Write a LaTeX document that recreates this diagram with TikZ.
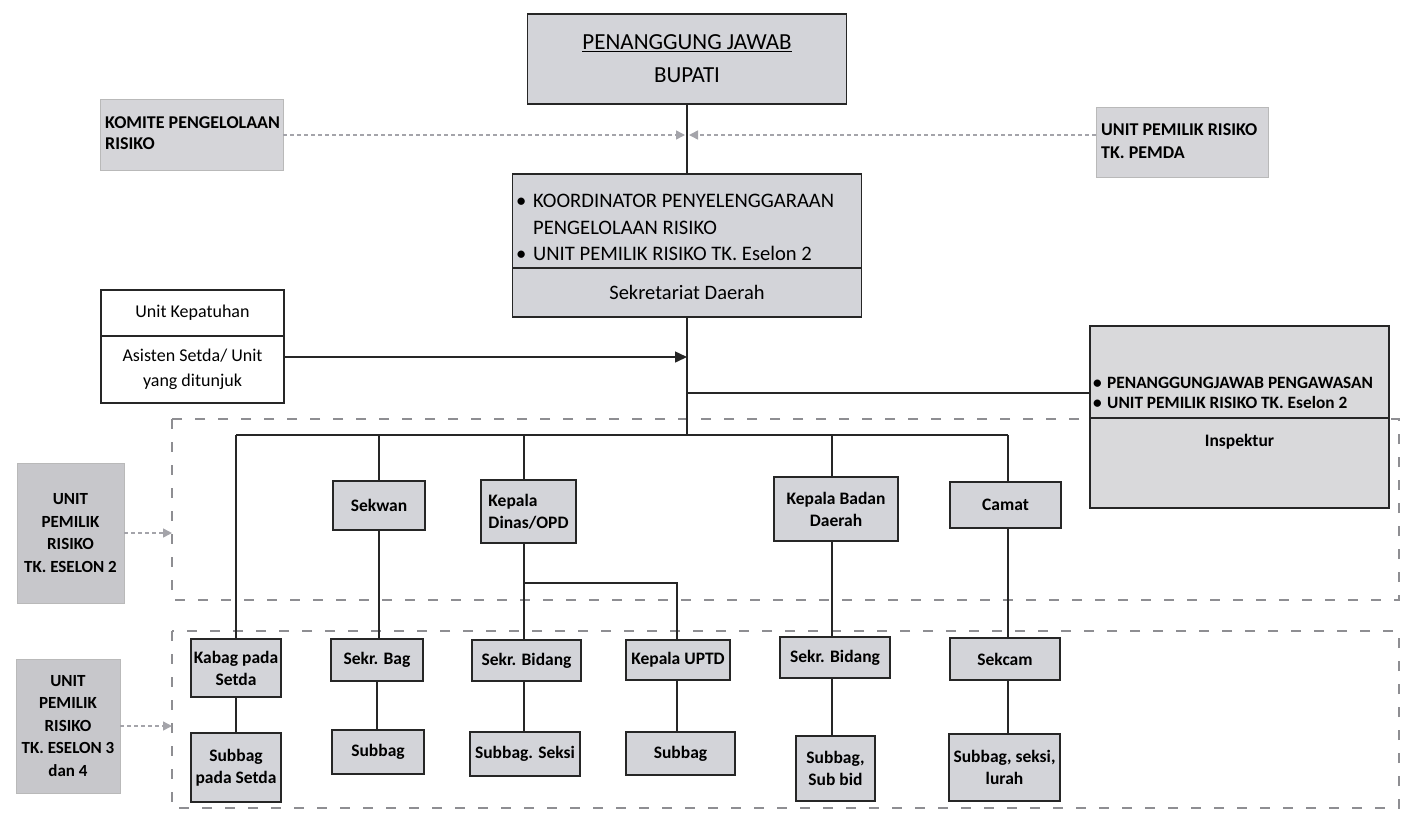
\documentclass[tikz,border=0pt]{standalone}
\usepackage{fontspec}
\setmainfont{Carlito}
\usetikzlibrary{arrows.meta}
\definecolor{boxgray}{HTML}{D3D4D9}
\definecolor{lightbox}{HTML}{D5D5D9}
\definecolor{sidegray}{HTML}{C7C7CB}
\definecolor{inspgray}{HTML}{D9D9DB}
\definecolor{dashgray}{HTML}{8E8E92}
\definecolor{dotgray}{HTML}{A4A4AA}
\begin{document}
\begin{tikzpicture}[x=1pt,y=-1pt,
  box/.style={draw=black!85, line width=1.3pt, fill=boxgray, rectangle, inner sep=1pt, align=center, font=\bfseries\fontsize{17.5}{22}\selectfont},
  sidebox/.style={draw=gray!55, line width=0.6pt, fill=sidegray, rectangle, inner sep=2pt, align=center, font=\bfseries\fontsize{17}{22.5}\selectfont},
  link/.style={draw=black!85, line width=1.3pt},
  region/.style={draw=dashgray, line width=2pt, dash pattern=on 10pt off 13pt},
  dotarrow/.style={draw=dotgray, line width=1.5pt, dash pattern=on 4pt off 3pt, -{Triangle[length=9pt,width=9pt]}},
  solidarrow/.style={draw=black!85, line width=1.5pt, -{Triangle[length=12pt,width=11pt]}},
  txt/.style={inner sep=0pt, align=left}
]
\useasboundingbox (0,0) rectangle (1406,812);

% dashed regions
\coordinate (r1nw) at (172,419);
\coordinate (r1se) at (1399,600);
\coordinate (r2nw) at (172,631);
\coordinate (r2se) at (1399,808);
\draw[region] (r1nw) rectangle (r1se);
\draw[region] (r2nw) rectangle (r2se);

% top
\node[box, minimum width=319pt, minimum height=90pt, font=\fontsize{23}{33}\selectfont] (bupati) at (687,59) {\underline{PENANGGUNG JAWAB}\\BUPATI};
\node[sidebox, fill=lightbox, minimum width=183pt, minimum height=71pt] (komite) at (191.5,134.5) {};
\node[txt, anchor=west, font=\bfseries\fontsize{18}{21}\selectfont] (komitetext) at (105,133.5) {KOMITE PENGELOLAAN\\RISIKO};
\node[sidebox, fill=lightbox, minimum width=172pt, minimum height=70pt] (pemda) at (1182,142) {};
\node[txt, anchor=west, font=\bfseries\fontsize{18}{23}\selectfont] (pemdatext) at (1101,141) {UNIT PEMILIK RISIKO\\TK. PEMDA};

\node[box, minimum width=349pt, minimum height=94pt] (koor) at (687,221) {};
\node[txt, anchor=west, font=\fontsize{20.6}{26.5}\selectfont] (koortext) at (516,227.5)
  {\makebox[17pt][l]{\textbullet}KOORDINATOR PENYELENGGARAAN\\\hspace*{17pt}PENGELOLAAN RISIKO\\\makebox[17pt][l]{\textbullet}UNIT PEMILIK RISIKO TK. Eselon 2};
\node[box, minimum width=349pt, minimum height=49pt, font=\fontsize{20.5}{22}\selectfont] (sekda) at (687,292.5) {Sekretariat Daerah};

\coordinate (mid) at (687,135);
\draw[link] (bupati.south) -- (koor.north);
\draw[dotarrow] (komite.east |- mid) -- ([xshift=-2pt]mid);
\draw[dotarrow] (pemda.west |- mid) -- ([xshift=2pt]mid);

% unit kepatuhan
\node[box, fill=white, minimum width=183pt, minimum height=46pt, font=\fontsize{18}{24}\selectfont] (kepTop) at (192.5,313) {Unit Kepatuhan};
\node[box, fill=white, minimum width=183pt, minimum height=67pt, font=\fontsize{18}{25}\selectfont] (kepBot) at (192.5,369.5) {Asisten Setda/ Unit\\yang ditunjuk};

% inspektur
\node[box, fill=inspgray, minimum width=299pt, minimum height=92pt] (inspTop) at (1239.5,372) {};
\node[box, fill=inspgray, minimum width=299pt, minimum height=90pt] (inspBot) at (1239.5,463) {};
\node[txt, anchor=west, font=\bfseries\fontsize{17.3}{20}\selectfont] (insptext) at (1093,393)
  {\makebox[14pt][l]{\textbullet}PENANGGUNGJAWAB PENGAWASAN\\\makebox[14pt][l]{\textbullet}UNIT PEMILIK RISIKO TK. Eselon 2};
\node[txt, font=\bfseries\fontsize{17.5}{20}\selectfont] (insplabel) at (1239.5,442) {Inspektur};

% main spine
\coordinate (kparr) at (687,357);
\coordinate (ib) at (687,393);
\coordinate (bus) at (687,435);
\coordinate (busL) at (236,435);
\coordinate (busR) at (1008,435);
\draw[link] (sekda.south) -- (bus);
\draw[link] (ib) -- (ib -| inspTop.west);
\draw[solidarrow] (kparr -| kepBot.east) -- (kparr);
\draw[link] (busL) -- (busR);

% side boxes
\node[sidebox, minimum width=107pt, minimum height=140pt] (upr2) at (70.5,533) {UNIT\\PEMILIK\\RISIKO\\TK. ESELON 2};
\node[sidebox, minimum width=104pt, minimum height=134pt] (upr34) at (68,726) {UNIT\\PEMILIK\\RISIKO\\TK. ESELON 3\\dan 4};
\draw[dotarrow] (upr2.east) -- (upr2.east -| r1nw);
\draw[dotarrow] (upr34.east) -- (upr34.east -| r2nw);

% middle row
\node[box, minimum width=92pt, minimum height=49pt] (sekwan) at (379,505.5) {Sekwan};
\node[box, minimum width=95pt, minimum height=63pt, align=left] (kadis) at (528.5,511.5) {Kepala\\Dinas/OPD};
\node[box, minimum width=124pt, minimum height=64pt] (kaban) at (836,509) {Kepala Badan\\Daerah};
\node[box, minimum width=111pt, minimum height=46pt] (camat) at (1005.5,505) {Camat};

% bottom row
\node[box, minimum width=90pt, minimum height=58pt] (kabag) at (236,668) {Kabag pada\\Setda};
\node[box, minimum width=90pt, minimum height=69pt] (subsetda) at (236,767.5) {Subbag\\pada Setda};
\node[box, minimum width=92pt, minimum height=42pt] (sekrbag) at (377,660) {Sekr. Bag};
\node[box, minimum width=92pt, minimum height=44pt] (subbag) at (378,752) {Subbag};
\node[box, minimum width=109pt, minimum height=41pt] (sekrbid) at (526.5,660.5) {Sekr. Bidang};
\node[box, minimum width=110pt, minimum height=44pt] (subseksi) at (525,754) {Subbag. Seksi};
\node[box, minimum width=104pt, minimum height=40pt] (kauptd) at (678,660) {Kepala UPTD};
\node[box, minimum width=109pt, minimum height=43pt] (subuptd) at (680.5,753.5) {Subbag};
\node[box, minimum width=110pt, minimum height=41pt] (sekrbidb) at (835,657.5) {Sekr. Bidang};
\node[box, minimum width=79pt, minimum height=65pt] (subbid) at (835.5,768.5) {Subbag,\\Sub bid};
\node[box, minimum width=110pt, minimum height=42pt] (sekcam) at (1005,659) {Sekcam};
\node[box, minimum width=111pt, minimum height=67pt] (lurah) at (1004.5,767.5) {Subbag, seksi,\\lurah};

% column connectors
\coordinate (c1) at (236,0);
\coordinate (c2) at (379,0);
\coordinate (c3) at (524,0);
\coordinate (c4) at (677,0);
\coordinate (c5) at (832,0);
\coordinate (c6) at (1008,0);
\coordinate (kd) at (524,583);
\draw[link] (busL) -- (kabag.north);
\draw[link] (kabag.south) -- (subsetda.north);
\draw[link] (c2 |- busL) -- (c2 |- sekwan.north);
\draw[link] (c2 |- sekwan.south) -- (c2 |- sekrbag.north);
\draw[link] (sekrbag.south) -- (sekrbag.south |- subbag.north);
\draw[link] (c3 |- busL) -- (c3 |- kadis.north);
\draw[link] (c3 |- kadis.south) -- (c3 |- sekrbid.north);
\draw[link] (c3 |- sekrbid.south) -- (c3 |- subseksi.north);
\draw[link] (kd) -- (kd -| c4) -- (c4 |- kauptd.north);
\draw[link] (c4 |- kauptd.south) -- (c4 |- subuptd.north);
\draw[link] (c5 |- busL) -- (c5 |- kaban.north);
\draw[link] (c5 |- kaban.south) -- (c5 |- sekrbidb.north);
\draw[link] (c5 |- sekrbidb.south) -- (c5 |- subbid.north);
\draw[link] (busR) -- (c6 |- camat.north);
\draw[link] (c6 |- camat.south) -- (c6 |- sekcam.north);
\draw[link] (c6 |- sekcam.south) -- (c6 |- lurah.north);
\end{tikzpicture}
\end{document}
